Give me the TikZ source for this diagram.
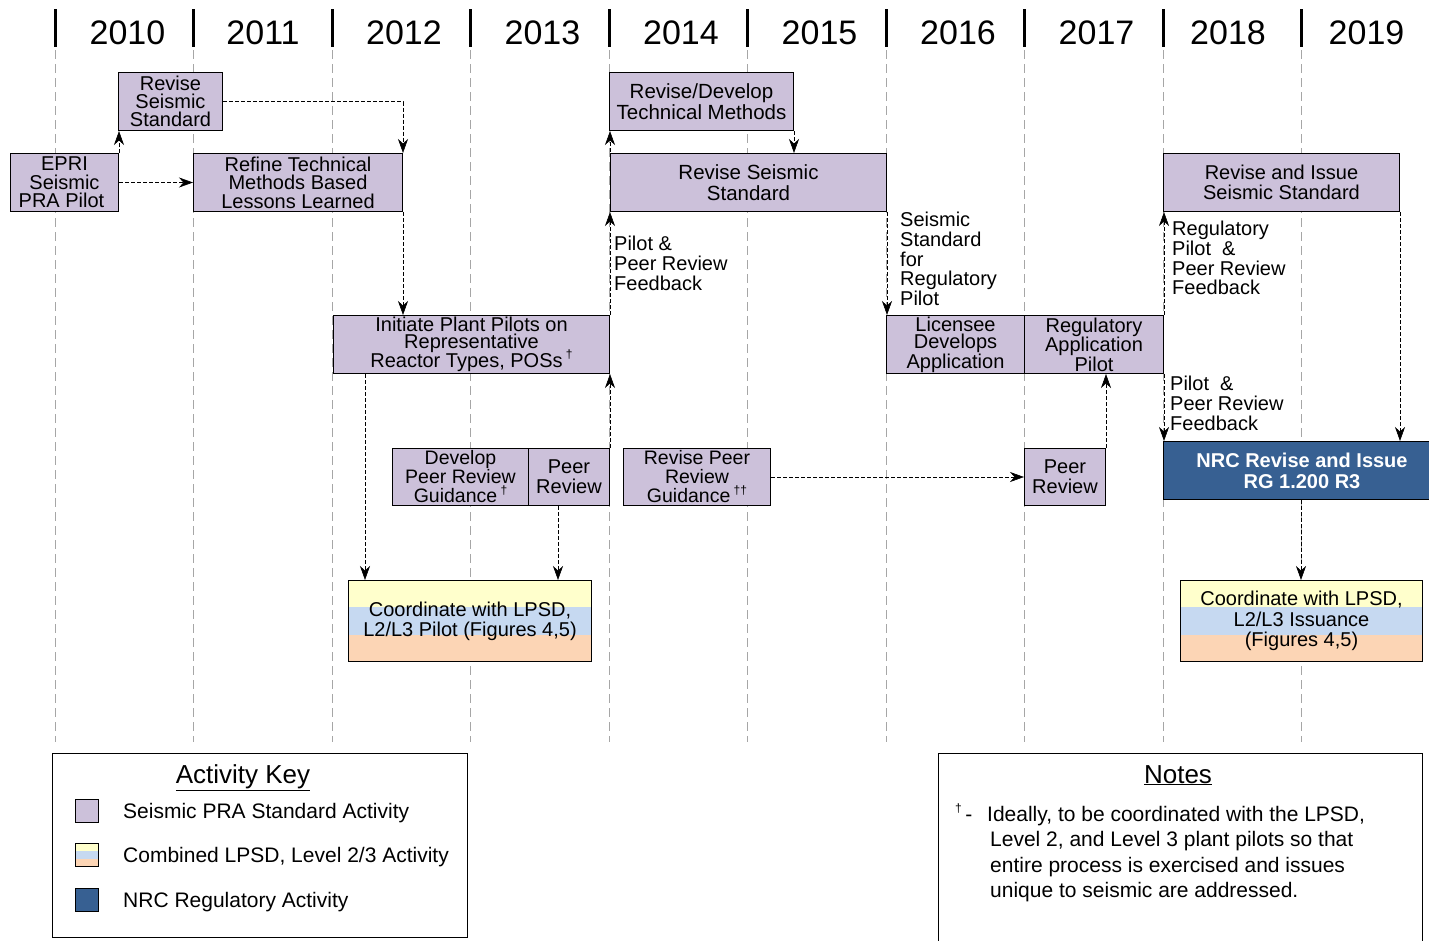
\documentclass[tikz,border=0pt]{standalone}
\usepackage{fontspec}
\setmainfont{Liberation Sans}
\usetikzlibrary{arrows.meta,calc}
\definecolor{lav}{HTML}{CCC1DA}
\definecolor{nrcblue}{HTML}{376092}
\definecolor{ylw}{HTML}{FFFFCC}
\definecolor{lblu}{HTML}{C6D9F1}
\definecolor{orng}{HTML}{FCD5B5}
\definecolor{gridgray}{HTML}{A6A6A6}
\newcommand{\fsz}[2]{\fontsize{#1}{#2}\selectfont}
\newcommand{\dg}[1]{\smash{\raisebox{0.45em}{\fontsize{12}{12}\selectfont #1}}}
\begin{document}
\begin{tikzpicture}[x=1pt,y=-1pt,
  box/.style={draw=black, line width=1pt, fill=lav, inner sep=0pt, align=center, anchor=north west},
  nrcbox/.style={draw=black, line width=1pt, fill=nrcblue, text=white, inner sep=0pt, align=center, anchor=north west, font=\bfseries\fsz{20}{21}},
  tribox/.style={draw=black, line width=1pt, inner sep=0pt, align=center, anchor=north west,
    path picture={
      \fill[ylw] (path picture bounding box.north west) rectangle ($(path picture bounding box.north east)!0.333!(path picture bounding box.south east)$);
      \fill[lblu] ($(path picture bounding box.north west)!0.333!(path picture bounding box.south west)$) rectangle ($(path picture bounding box.north east)!0.667!(path picture bounding box.south east)$);
      \fill[orng] ($(path picture bounding box.north west)!0.667!(path picture bounding box.south west)$) rectangle (path picture bounding box.south east);
    }},
  arr/.style={draw=black, line width=1pt, dash pattern=on 4pt off 2pt, -{Stealth[length=14pt,width=10pt,inset=4.5pt,line width=0.6pt]}},
  gridline/.style={draw=gridgray, line width=1pt, dash pattern=on 9pt off 5pt},
  yearbar/.style={draw=black, line width=3pt},
  yearlbl/.style={anchor=base, inner sep=0pt, font=\fsz{34}{34}},
  lbl/.style={anchor=north west, inner sep=0pt, align=left, font=\fsz{20}{19.7}},
  keytxt/.style={anchor=base west, inner sep=0pt, font=\fsz{21}{25}},
  swatch/.style={draw=black, line width=1pt, inner sep=0pt, minimum width=23pt, minimum height=23pt, anchor=north west}
]
\useasboundingbox (0,0) rectangle (1429,940);

% grid lines and year bars
\foreach \xx/\nm in {55/a,193/b,332/c,470/d,609/e,747/f,886/g,1024/h,1163/i,1301/j}{
  \coordinate (gt\nm) at (\xx,50);
  \coordinate (gb\nm) at (\xx,742);
  \draw[gridline] (gt\nm) -- (gb\nm);
  \coordinate (bt\nm) at (\xx,9);
  \coordinate (bb\nm) at (\xx,47);
  \draw[yearbar] (bt\nm) -- (bb\nm);
}
\foreach \xx/\yr in {127.5/2010,263/2011,404/2012,542.5/2013,681/2014,819.5/2015,958/2016,1096.5/2017,1228/2018,1366.5/2019}{
  \node[yearlbl] (y\yr) at (\xx,44) {\yr};
}

% boxes
\node[box, minimum width=108pt, minimum height=58pt, font=\fsz{20}{18.5}] (epri) at (10,153) {EPRI\\Seismic\\PRA Pilot\hspace*{6pt}};
\node[box, minimum width=104pt, minimum height=58pt, font=\fsz{20}{18}] (rssa) at (118,72) {Revise\\Seismic\\Standard};
\node[box, minimum width=209pt, minimum height=58pt, font=\fsz{20}{18.5}] (refine) at (193,153) {Refine Technical\\Methods Based\\Lessons Learned};
\node[box, minimum width=276pt, minimum height=58pt, font=\fsz{20}{17.5}] (init) at (333,315) {Initiate Plant Pilots on\\Representative\\Reactor Types, POSs\,\dg{†}};
\node[box, minimum width=136pt, minimum height=57pt, font=\fsz{19.5}{19}] (dprg) at (392,448) {Develop\\Peer Review\\Guidance\,\dg{†}};
\node[box, minimum width=81pt, minimum height=57pt, font=\fsz{20}{20}] (pra) at (528,448) {Peer\\Review};
\node[tribox, minimum width=243pt, minimum height=81pt, font=\fsz{20}{20}] (coorda) at (348,580) {Coordinate with LPSD,\\L2/L3 Pilot (Figures 4,5)};
\node[box, minimum width=184pt, minimum height=58pt, font=\fsz{20.5}{21}] (rdtm) at (609,72) {Revise/Develop\\Technical Methods};
\node[box, minimum width=276pt, minimum height=58pt, font=\fsz{20.5}{21}] (rssb) at (610,153) {Revise Seismic\\Standard};
\node[box, minimum width=147pt, minimum height=57pt, font=\fsz{19.5}{19}] (rprg) at (623,448) {Revise Peer\\Review\\Guidance\,\dg{††}};
\node[box, minimum width=138pt, minimum height=58pt, font=\fsz{20}{17.5}] (lic) at (886,315) {Licensee\\Develops\\Application};
\node[box, minimum width=139pt, minimum height=58pt, font=\fsz{20}{17.5}] (rap) at (1024,315) {Regulatory\\Application\\Pilot};
\node[box, minimum width=81pt, minimum height=57pt, font=\fsz{20}{20}] (prb) at (1024,448) {Peer\\Review};
\node[box, minimum width=236pt, minimum height=58pt, font=\fsz{20}{20}] (ris) at (1163,153) {Revise and Issue\\Seismic Standard};
\node[nrcbox, minimum width=277pt, minimum height=58pt] (nrc) at (1163,441) {NRC Revise and Issue\\RG 1.200 R3};
\node[tribox, minimum width=242pt, minimum height=81pt, font=\fsz{20}{20.5}] (coordb) at (1180,580) {Coordinate with LPSD,\\L2/L3 Issuance\\(Figures 4,5)};

% free labels
\node[lbl] (fbka) at (614,236) {Pilot \&\\Peer Review\\Feedback};
\node[lbl] (ssrp) at (900,212) {Seismic\\Standard\\for\\Regulatory\\Pilot};
\node[lbl] (fbkb) at (1172,221) {Regulatory\\Pilot\ \ \&\\Peer Review\\Feedback};
\node[lbl] (fbkc) at (1170,376) {Pilot\ \ \&\\Peer Review\\Feedback};

% connectors
\draw[arr] (epri.north east) -- (epri.north east |- rssa.south);
\draw[arr] (epri.east) -- (refine.west);
\draw[arr] (rssa.east) -| (refine.north east);
\draw[arr] (refine.south east) -- (refine.south east |- init.north);
\draw[arr] ([xshift=32pt]init.south west) -- ([xshift=32pt]init.south west |- coorda.north);
\draw[arr] ([xshift=-11pt]pra.south) -- ([xshift=-11pt]pra.south |- coorda.north);
\draw[arr] (pra.north east) -- (pra.north east |- init.south);
\draw[arr] (init.north east) -- (init.north east |- rssb.south);
\draw[arr] (init.north east |- rssb.south) -- (init.north east |- rdtm.south);
\draw[arr] (rdtm.south east) -- (rdtm.south east |- rssb.north);
\draw[arr] (rssb.south east) -- (rssb.south east |- lic.north);
\draw[arr] (rprg.east) -- (prb.west);
\draw[arr] (prb.north east) -- (prb.north east |- rap.south);
\draw[arr] (rap.north east) -- (rap.north east |- ris.south);
\draw[arr] (rap.south east) -- (rap.south east |- nrc.north);
\draw[arr] (ris.south east) -- (ris.south east |- nrc.north);
\draw[arr] ([xshift=-1pt]nrc.south) -- ([xshift=-1pt]nrc.south |- coordb.north);

% legend
\node[draw=black, line width=1pt, anchor=north west, minimum width=415pt, minimum height=184pt, inner sep=0pt] (keybox) at (52,753) {};
\node[anchor=base, inner sep=0pt, font=\fsz{26}{26}] (keytitle) at (243,783) {\underline{Activity Key}};
\node[swatch, fill=lav] (swa) at (75,799) {};
\node[swatch, path picture={
      \fill[ylw] (path picture bounding box.north west) rectangle ($(path picture bounding box.north east)!0.333!(path picture bounding box.south east)$);
      \fill[lblu] ($(path picture bounding box.north west)!0.333!(path picture bounding box.south west)$) rectangle ($(path picture bounding box.north east)!0.667!(path picture bounding box.south east)$);
      \fill[orng] ($(path picture bounding box.north west)!0.667!(path picture bounding box.south west)$) rectangle (path picture bounding box.south east);
    }] (swb) at (75,843) {};
\node[swatch, fill=nrcblue] (swc) at (75,888) {};
\node[keytxt] (kta) at (123,818.5) {Seismic PRA Standard Activity};
\node[keytxt] (ktb) at (123,862.5) {Combined LPSD, Level 2/3 Activity};
\node[keytxt] (ktc) at (123,907.5) {NRC Regulatory Activity};

% notes
\node[draw=black, line width=1pt, anchor=north west, minimum width=484pt, minimum height=200pt, inner sep=0pt] (notebox) at (938,753) {};
\node[anchor=base, inner sep=0pt, font=\fsz{26}{26}] (notetitle) at (1178,783) {\underline{Notes}};
\node[anchor=base west, inner sep=0pt, font=\fsz{21}{25}] (dag) at (955,821.5) {\dg{†}\,-};
\node[anchor=north west, inner sep=0pt, align=left, font=\fsz{21}{25.3}] (notetxt) at (987,806) {Ideally, to be coordinated with the LPSD,\\\hspace*{3pt}Level 2, and Level 3 plant pilots so that\\\hspace*{3pt}entire process is exercised and issues\\\hspace*{3pt}unique to seismic are addressed.};
\end{tikzpicture}
\end{document}
